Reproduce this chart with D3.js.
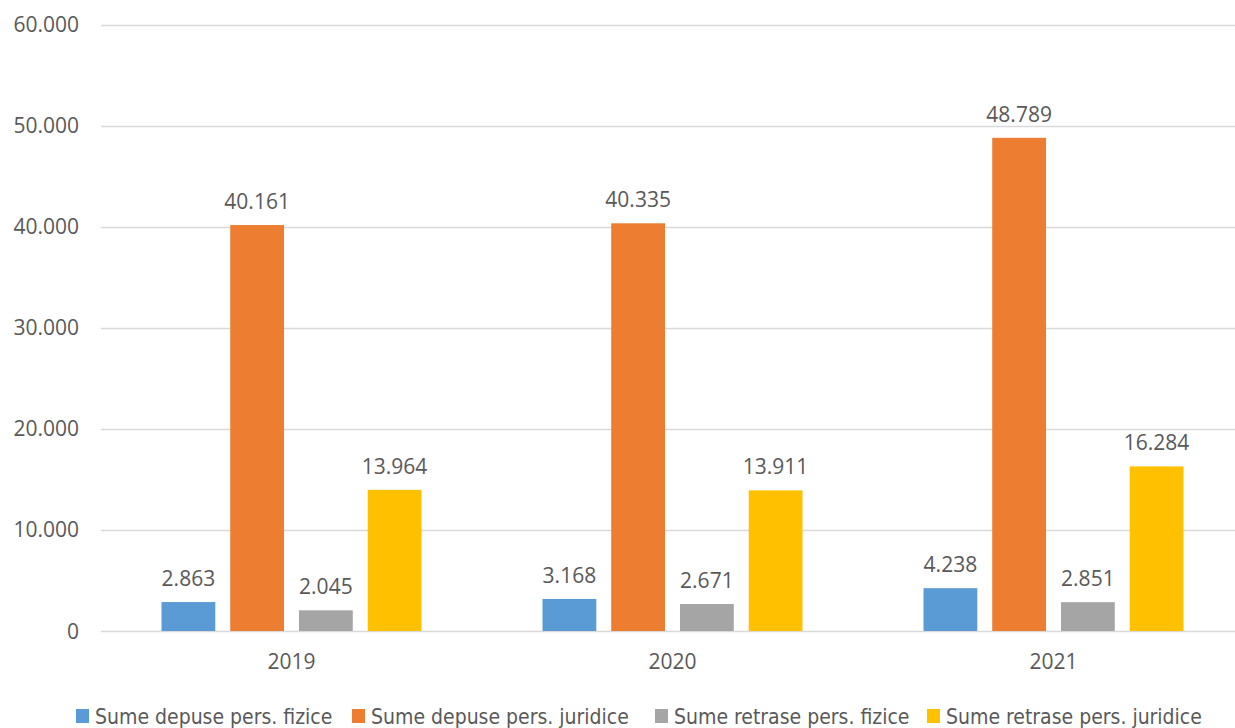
<!DOCTYPE html>
<html>
<head>
<meta charset="utf-8">
<script src="https://cdn.jsdelivr.net/npm/d3@7"></script>
<style>
  html, body { margin: 0; padding: 0; background: #fff; }
  svg { display: block; }
  text { fill: #595959; }
</style>
</head>
<body>
<svg id="chart" width="1235" height="728"></svg>
<script>
// Sums deposited / withdrawn, by year and type of person
const years = ["2019", "2020", "2021"];
const seriesNames = [
  "Sume depuse pers. fizice",
  "Sume depuse pers. juridice",
  "Sume retrase pers. fizice",
  "Sume retrase pers. juridice"
];
const depuseFizice   = [2863, 3168, 4238];
const depuseJuridice = [40161, 40335, 48789];
const retraseFizice  = [2045, 2671, 2851];
const retraseJuridice = [13964, 13911, 16284];
const yTicks = [0, 10000, 20000, 30000, 40000, 50000, 60000];
const colors = ["#5B9BD5", "#ED7D31", "#A5A5A5", "#FFC000"];

const seriesValues = [depuseFizice, depuseJuridice, retraseFizice, retraseJuridice];

const svg = d3.select("#chart");
const numFont = "'Open Sans', sans-serif";
const numSize = "21px";
const fmt = v => d3.format(",")(v).replace(/,/g, ".");

const plot = { left: 101, right: 1244, top: 24.5, bottom: 631 };

const x = d3.scaleBand().domain(years).range([plot.left, plot.right]).paddingInner(0).paddingOuter(0);
const y = d3.scaleLinear().domain([0, 60000]).range([plot.bottom, plot.top]);

const inner = d3.scaleBand().domain(d3.range(seriesNames.length))
  .range([0, x.bandwidth()]).paddingInner(15 / 69).paddingOuter(0.88);

// gridlines
svg.append("g").selectAll("line").data(yTicks).join("line")
  .attr("x1", plot.left).attr("x2", plot.right)
  .attr("y1", d => Math.round(y(d)) + 0.5).attr("y2", d => Math.round(y(d)) + 0.5)
  .attr("stroke", "#D9D9D9").attr("stroke-width", 1.5);

// y tick labels
svg.append("g").selectAll("text").data(yTicks).join("text")
  .attr("x", 79).attr("y", d => y(d) + 7.5)
  .attr("text-anchor", "end")
  .style("font-family", numFont).style("font-size", numSize)
  .text(d => fmt(d));

// bars with value labels
const groups = svg.append("g").selectAll("g").data(years).join("g")
  .attr("transform", d => `translate(${x(d)},0)`);

groups.each(function (yr, yi) {
  const g = d3.select(this);
  seriesValues.forEach((vals, si) => {
    const v = vals[yi];
    g.append("rect")
      .attr("x", inner(si)).attr("width", inner.bandwidth())
      .attr("y", y(v)).attr("height", y(0) - y(v))
      .attr("fill", colors[si]);
    g.append("text")
      .attr("x", inner(si) + inner.bandwidth() / 2)
      .attr("y", y(v) - 16)
      .attr("text-anchor", "middle")
      .style("font-family", numFont).style("font-size", numSize)
      .text(fmt(v));
  });
});

// category labels
svg.append("g").selectAll("text").data(years).join("text")
  .attr("x", d => x(d) + x.bandwidth() / 2).attr("y", 669)
  .attr("text-anchor", "middle")
  .style("font-family", numFont).style("font-size", numSize)
  .text(d => d);

// legend
const legendX = [76, 352, 655, 927];
const legend = svg.append("g");
seriesNames.forEach((name, i) => {
  legend.append("rect").attr("x", legendX[i]).attr("y", 709)
    .attr("width", 13).attr("height", 14).attr("fill", colors[i]);
  legend.append("text").attr("x", legendX[i] + 19).attr("y", 723.5)
    .style("font-family", "'Liberation Sans Narrow', 'DejaVu Sans Condensed', sans-serif")
    .style("font-size", "21px")
    .text(name);
});
</script>
</body>
</html>
